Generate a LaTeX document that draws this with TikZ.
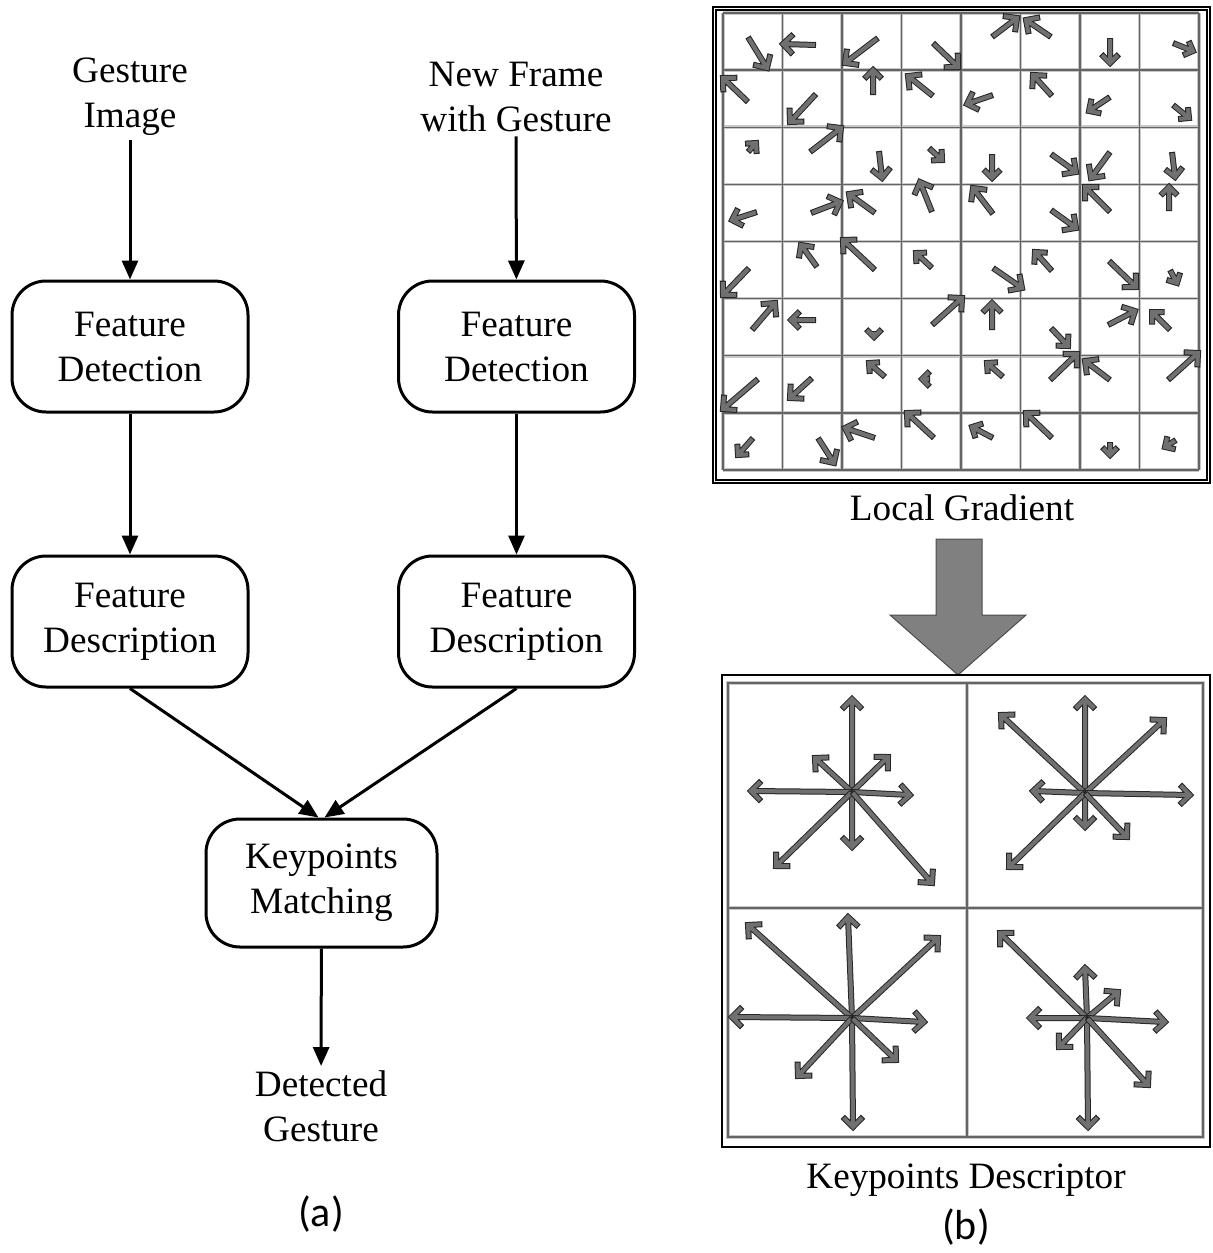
\documentclass[tikz,border=0pt]{standalone}
\usepackage{fontspec}
\setmainfont{Liberation Serif}
\newfontfamily\capfont{Carlito}
\usetikzlibrary{arrows.meta,calc}

\definecolor{arrgray}{RGB}{112,112,112}
\definecolor{bigarr}{RGB}{128,128,128}
\definecolor{gridgray}{RGB}{100,100,100}
\definecolor{gridhalo}{RGB}{200,200,200}

\newcommand\lbl{\fontsize{18.6}{22.5}\selectfont}

% outlined gray arrow with an open chevron head, from (#1,#2) to (#3,#4)
\newcommand\garr[4]{%
  \pgfmathsetmacro\barblen{max(5.5,min(7.2,0.25*veclen(#3-#1,#4-#2)))}%
  \pgfmathsetmacro\barbin{\barblen-0.6}%
  \draw[black!85,line width=3pt,miter limit=10]
    (#1,#2) -- (#3,#4)
    ($(#3,#4)!\barblen pt!45:(#1,#2)$) -- (#3,#4) -- ($(#3,#4)!\barblen pt!-45:(#1,#2)$);
  \draw[arrgray,line width=2pt,miter limit=10]
    ($(#1,#2)!0.6pt!(#3,#4)$) -- (#3,#4)
    ($(#3,#4)!\barbin pt!45:(#1,#2)$) -- (#3,#4) -- ($(#3,#4)!\barbin pt!-45:(#1,#2)$);
}

\tikzset{
  box/.style={draw, line width=1.5pt, rounded corners=17pt, minimum width=118pt,
              minimum height=65.5pt, align=center, font=\lbl, inner sep=2pt},
  txt/.style={align=center, font=\lbl, inner sep=2pt},
  captext/.style={font=\capfont\fontsize{21}{25}\selectfont, inner sep=1pt},
  flow/.style={line width=1.5pt, -{Triangle[length=9.5pt,width=8pt]}},
  gridl/.style={gridgray, line width=0.7pt},
  gridh/.style={gridhalo, line width=1.8pt},
}

\begin{document}
\begin{tikzpicture}[x=0.5pt,y=-0.5pt]
\useasboundingbox (0,0) rectangle (1212,1253);

% ---------- (a) matching pipeline ----------
\node[txt] (gi) at (130,97) {Gesture\\Image};
\node[txt] (nf) at (516,97) {New Frame\\with Gesture};

\node[box] (fdet1) at (130,346.5) {Feature\\Detection};
\node[box] (fdet2) at (516.5,346.5) {Feature\\Detection};
\node[box] (fdes1) at (130,621.5) {Feature\\Description};
\node[box] (fdes2) at (516.5,621.5) {Feature\\Description};
\node[box, minimum width=115.5pt, minimum height=64pt] (km) at (321.5,883) {Keypoints\\Matching};
\node[txt] (dg) at (321,1106) {Detected\\Gesture};
\node[captext] (capa) at (321,1214) {(a)};

\draw[flow] (gi) -- (fdet1);
\draw[flow] (nf) -- (fdet2);
\draw[flow] (fdet1) -- (fdes1);
\draw[flow] (fdet2) -- (fdes2);
\draw[flow] (fdes1.south) -- ([xshift=-1.5pt]km.north);
\draw[flow] (fdes2.south) -- ([xshift=1.5pt]km.north);
\draw[flow] (km) -- (dg);

% ---------- (b) local gradient grid ----------
\draw[black, line width=0.8pt] (713,7) rectangle (1210,483);
\draw[black, line width=0.7pt] (716,10) rectangle (1207,480);
\foreach \i in {0,...,8} {
  \draw[gridh] ({723+59.5*\i},13) -- ({723+59.5*\i},470);
  \draw[gridh] (723,{13+57.125*\i}) -- (1199,{13+57.125*\i});
}
\foreach \i in {0,...,8} {
  \draw[gridl] ({723+59.5*\i},13) -- ({723+59.5*\i},470);
  \draw[gridl] (723,{13+57.125*\i}) -- (1199,{13+57.125*\i});
}

\foreach \a/\b/\c/\d in {
  748/37/767/68, 816/45/783/44, 878/38/845/63, 933/43/958/67,
  992/37/1017/18, 1051/37/1026/20, 1110/38/1110/63, 1173/43/1193/51,
  748/102/723/78, 816/94/790/122, 873/95/873/70, 933/96/908/76,
  993/95/967/104, 1052/96/1033/75, 1110/97/1089/111, 1173/105/1189/118,
  748/152/756/143, 810/152/841/128, 879/151/882/178, 929/148/942/160,
  992/154/992/178, 1051/154/1076/172, 1110/152/1091/178, 1172/152/1175/177,
  757/212/732/220, 811/213/840/202, 875/213/849/194, 932/212/920/182,
  993/214/973/188, 1051/210/1076/228, 1110/212/1085/187, 1169/211/1169/187,
  749/268/723/295, 817/267/801/245, 875/270/843/240, 932/268/916/253,
  993/268/1022/288, 1052/271/1035/252, 1109/261/1136/287, 1170/270/1177/283,
  752/330/775/303, 816/320/791/320, 874/331/874/337, 932/325/962/298,
  992/330/992/303, 1051/328/1068/346, 1108/325/1135/311, 1170/330/1152/312,
  758/379/723/409, 812/378/790/398, 885/377/869/363, 930/379/922/379,
  1003/377/987/363, 1050/380/1077/354, 1110/380/1085/361, 1168/380/1198/353,
  753/438/738/455, 818/438/834/463, 875/438/845/428, 934/438/907/413,
  993/438/972/427, 1052/438/1026/413, 1110/442/1110/455, 1176/440/1165/447}
  {\garr{\a}{\b}{\c}{\d}}

\node[txt] (lg) at (962,508) {Local Gradient};

% big downward arrow
\draw[fill=bigarr, draw=black!70, line width=0.5pt]
  (936,539) -- (982,539) -- (982,615) -- (1026,615) -- (958,675)
  -- (890,615) -- (936,615) -- cycle;

% ---------- (b) keypoint descriptor ----------
\draw[black, line width=1.2pt] (722,675) rectangle (1210,1147);
\draw[gridh] (728,683) rectangle (1203,1137);
\draw[gridh] (967,683) -- (967,1137);
\draw[gridh] (728,908) -- (1203,908);
\draw[gridl] (728,683) rectangle (1203,1137);
\draw[gridl] (967,683) -- (967,1137);
\draw[gridl] (728,908) -- (1203,908);

\foreach \c/\d in {852/699, 815/758, 888/757, 751/791, 910/795, 852/847, 776/866, 932/883}
  {\garr{852}{792}{\c}{\d}}
\foreach \c/\d in {1085/699, 1001/715, 1164/720, 1033/791, 1190/795, 1085/827, 1009/867, 1127/837}
  {\garr{1085}{793}{\c}{\d}}
\foreach \c/\d in {848/917, 748/925, 938/938, 732/1017, 924/1022, 853/1127, 798/1076, 896/1060}
  {\garr{852}{1018}{\c}{\d}}
\foreach \c/\d in {1085/968, 1000/933, 1118/992, 1030/1018, 1165/1022, 1088/1127, 1059/1047, 1148/1085}
  {\garr{1087}{1018}{\c}{\d}}

\node[txt] (kd) at (966,1180) {Keypoints Descriptor};
\node[captext] (capb) at (966,1227) {(b)};
\end{tikzpicture}
\end{document}
